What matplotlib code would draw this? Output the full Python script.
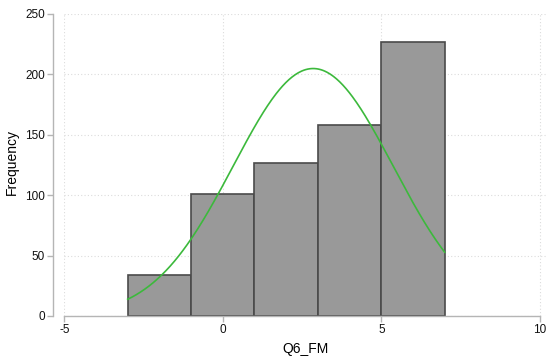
import numpy as np
import matplotlib
matplotlib.use('Agg')
from matplotlib import pyplot as plt

# histogram bins (width 2) and counts
bin_edges = [-3, -1, 1, 3, 5, 7]
counts = [34, 101, 127, 158, 227]

# fitted normal curve parameters
curve_mean = 2.85
curve_sd = 2.52

x_ticks = [-5, 0, 5, 10]
y_ticks = [0, 50, 100, 150, 200, 250]

plt.rcParams['font.family'] = ['Liberation Sans', 'DejaVu Sans']

fig = plt.figure(figsize=(5.46, 3.59), dpi=100)
W, H = 546, 359
ax = fig.add_axes([64.3 / W, (H - 316) / H, (546 - 64.3) / W, (316 - 14) / H])

widths = np.diff(bin_edges)
ax.bar(bin_edges[:-1], counts, width=widths, align='edge',
       color='#999999', edgecolor='#4a4a4a', linewidth=1.2, zorder=2)

# normal density scaled to counts
n_total = sum(counts)
bw = widths[0]
xs = np.linspace(bin_edges[0], bin_edges[-1], 300)
ys = n_total * bw / (curve_sd * np.sqrt(2 * np.pi)) * np.exp(-0.5 * ((xs - curve_mean) / curve_sd) ** 2)
ax.plot(xs, ys, color='#3cb93c', linewidth=1.2, zorder=3)

ax.set_xlim(-5, 10 + 6.2 / 31.7)
ax.set_ylim(0, 250)
ax.set_xticks(x_ticks)
ax.set_yticks(y_ticks)
ax.set_xticklabels([str(v) for v in x_ticks])

ax.grid(True, color='#dcdcdc', linestyle=(0, (1, 2)), linewidth=0.8, zorder=0)

for s in ['top', 'right']:
    ax.spines[s].set_visible(False)
ax.spines['left'].set_position(('outward', 8))
ax.spines['left'].set_bounds(0, 250)
ax.spines['bottom'].set_bounds(-5, 10)
for s in ['left', 'bottom']:
    ax.spines[s].set_color('#b5b5b5')
    ax.spines[s].set_linewidth(1.0)

ax.tick_params(axis='both', colors='#b5b5b5', labelcolor='#111111', length=4,
               width=1.0, labelsize=8.5, pad=2)

ax.set_xlabel('Q6_FM', fontsize=10, labelpad=4)
ax.set_ylabel('Frequency', fontsize=10, labelpad=8)
ax.yaxis.set_label_coords(-0.095, 0.51)

plt.savefig('out.png', dpi=100)
